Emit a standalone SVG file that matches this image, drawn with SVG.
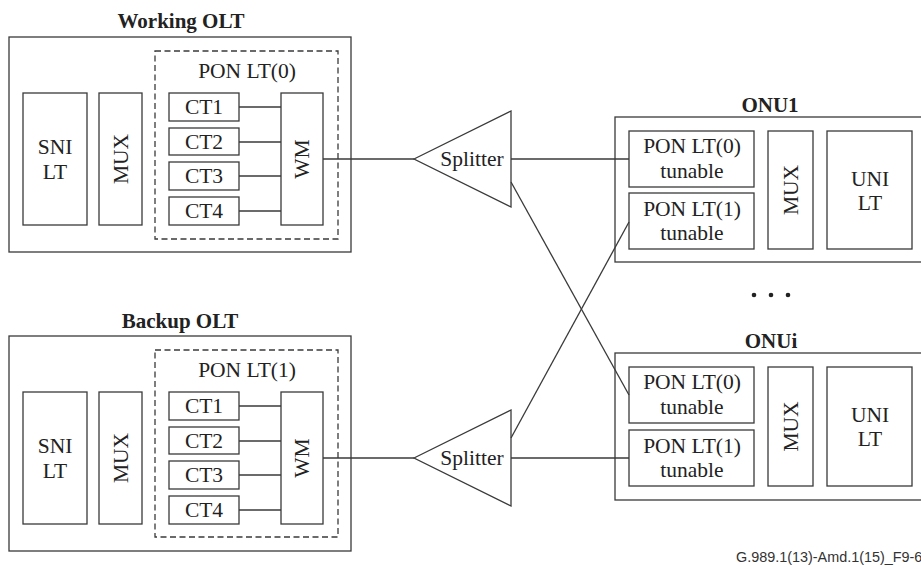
<svg xmlns="http://www.w3.org/2000/svg" width="921" height="569" viewBox="0 0 921 569">
  <style>
    .box { fill: #fff; stroke: #3a3a3a; stroke-width: 1.3; }
    .dash { fill: none; stroke: #3a3a3a; stroke-width: 1.3; stroke-dasharray: 6 3.5; }
    .wire { fill: none; stroke: #3a3a3a; stroke-width: 1.3; }
    .t { font-family: "Liberation Serif", "Times New Roman", serif; font-size: 21.5px; fill: #222; text-anchor: middle; }
    .title { font-family: "Liberation Serif", "Times New Roman", serif; font-size: 21px; font-weight: bold; fill: #222; text-anchor: middle; }
    .ref { font-family: "Liberation Sans", Arial, sans-serif; font-size: 14.4px; fill: #333; }
  </style>

  <!-- Working OLT -->
  <g id="working-olt">
    <text class="title" x="181" y="28">Working OLT</text>
    <rect class="box" x="9" y="37" width="342" height="215"/>
    <rect class="dash" x="155" y="51" width="183" height="188"/>
    <text class="t" x="247" y="78">PON LT(0)</text>
    <rect class="box" x="23" y="93" width="64" height="132"/>
    <text class="t" x="55" y="154">SNI</text>
    <text class="t" x="55" y="179">LT</text>
    <rect class="box" x="99" y="93" width="43" height="132"/>
    <text class="t" transform="translate(121,159) rotate(-90)" y="7">MUX</text>
    <rect class="box" x="169" y="93" width="70" height="28"/>
    <text class="t" x="204" y="114">CT1</text>
    <rect class="box" x="169" y="128" width="70" height="27"/>
    <text class="t" x="204" y="149">CT2</text>
    <rect class="box" x="169" y="162" width="70" height="28"/>
    <text class="t" x="204" y="183">CT3</text>
    <rect class="box" x="169" y="197" width="70" height="28"/>
    <text class="t" x="204" y="218">CT4</text>
    <rect class="box" x="281" y="93" width="42" height="132"/>
    <text class="t" transform="translate(302,159) rotate(-90)" y="7">WM</text>
  </g>

  <!-- Backup OLT -->
  <g id="backup-olt">
    <text class="title" x="180" y="328">Backup OLT</text>
    <rect class="box" x="9" y="336" width="342" height="215"/>
    <rect class="dash" x="155" y="350" width="183" height="187"/>
    <text class="t" x="247" y="377">PON LT(1)</text>
    <rect class="box" x="23" y="392" width="64" height="132"/>
    <text class="t" x="55" y="453">SNI</text>
    <text class="t" x="55" y="478">LT</text>
    <rect class="box" x="99" y="392" width="43" height="132"/>
    <text class="t" transform="translate(121,458) rotate(-90)" y="7">MUX</text>
    <rect class="box" x="169" y="392" width="70" height="28"/>
    <text class="t" x="204" y="413">CT1</text>
    <rect class="box" x="169" y="427" width="70" height="27"/>
    <text class="t" x="204" y="448">CT2</text>
    <rect class="box" x="169" y="461" width="70" height="28"/>
    <text class="t" x="204" y="482">CT3</text>
    <rect class="box" x="169" y="496" width="70" height="28"/>
    <text class="t" x="204" y="517">CT4</text>
    <rect class="box" x="281" y="392" width="42" height="132"/>
    <text class="t" transform="translate(302,458) rotate(-90)" y="7">WM</text>
  </g>

  <!-- Splitters -->
  <g id="splitter-1">
    <polygon class="box" points="414,159 511,111 511,207"/>
    <text class="t" x="472" y="166">Splitter</text>
  </g>
  <g id="splitter-2">
    <polygon class="box" points="414,458 511,410 511,506"/>
    <text class="t" x="472" y="465">Splitter</text>
  </g>

  <!-- ONU1 -->
  <g id="onu-1">
    <text class="title" x="770" y="112">ONU1</text>
    <rect class="box" x="615" y="117" width="320" height="145"/>
    <rect class="box" x="629" y="131" width="125" height="56"/>
    <text class="t" x="692" y="153">PON LT(0)</text>
    <text class="t" x="692" y="178">tunable</text>
    <rect class="box" x="629" y="193" width="125" height="56"/>
    <text class="t" x="692" y="216">PON LT(1)</text>
    <text class="t" x="692" y="240">tunable</text>
    <rect class="box" x="768" y="131" width="45" height="118"/>
    <text class="t" transform="translate(790.5,190) rotate(-90)" y="7">MUX</text>
    <rect class="box" x="827" y="131" width="85" height="118"/>
    <text class="t" x="870" y="186">UNI</text>
    <text class="t" x="870" y="210">LT</text>
  </g>

  <!-- continuation marks between ONUs -->
  <g id="ellipsis" fill="#222">
    <circle cx="754" cy="295" r="2.3"/>
    <circle cx="771" cy="295" r="2.3"/>
    <circle cx="788" cy="295" r="2.3"/>
  </g>

  <!-- ONUi -->
  <g id="onu-i">
    <text class="title" x="771" y="348">ONUi</text>
    <rect class="box" x="615" y="353" width="320" height="147"/>
    <rect class="box" x="629" y="367" width="125" height="56"/>
    <text class="t" x="692" y="389">PON LT(0)</text>
    <text class="t" x="692" y="414">tunable</text>
    <rect class="box" x="629" y="430" width="125" height="56"/>
    <text class="t" x="692" y="453">PON LT(1)</text>
    <text class="t" x="692" y="477">tunable</text>
    <rect class="box" x="768" y="367" width="45" height="119"/>
    <text class="t" transform="translate(790.5,426.5) rotate(-90)" y="7">MUX</text>
    <rect class="box" x="827" y="367" width="85" height="119"/>
    <text class="t" x="870" y="422">UNI</text>
    <text class="t" x="870" y="446">LT</text>
  </g>

  <!-- Fibre and internal links -->
  <g id="connectors" class="wire">
    <line x1="239" y1="107" x2="281" y2="107"/>
    <line x1="239" y1="142" x2="281" y2="142"/>
    <line x1="239" y1="176" x2="281" y2="176"/>
    <line x1="239" y1="211" x2="281" y2="211"/>
    <line x1="239" y1="406" x2="281" y2="406"/>
    <line x1="239" y1="441" x2="281" y2="441"/>
    <line x1="239" y1="475" x2="281" y2="475"/>
    <line x1="239" y1="510" x2="281" y2="510"/>
    <line x1="323" y1="159" x2="414" y2="159"/>
    <line x1="323" y1="458" x2="414" y2="458"/>
    <line x1="511" y1="159" x2="629" y2="159"/>
    <line x1="511" y1="182" x2="629" y2="395"/>
    <line x1="511" y1="438" x2="629" y2="222"/>
    <line x1="511" y1="458" x2="629" y2="458"/>
  </g>

  <text class="ref" x="736" y="562">G.989.1(13)-Amd.1(15)_F9-6</text>
</svg>
